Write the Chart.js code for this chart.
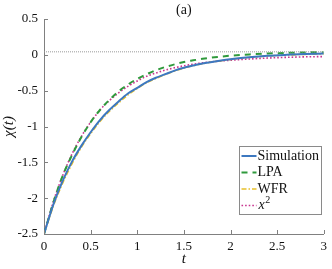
<!DOCTYPE html>
<html>
<head>
<meta charset="utf-8">
<script src="https://cdn.jsdelivr.net/npm/chart.js@4.4.0/dist/chart.umd.min.js"></script>
<style>
  html, body { margin: 0; padding: 0; background: #fff; }
  #wrap { width: 332px; height: 269px; }
</style>
</head>
<body>
<div id="wrap"><canvas id="chart" width="332" height="269"></canvas></div>
<script>
// time samples (t) and chi(t)
const tValues = [0, 0.1, 0.2, 0.3, 0.4, 0.5, 0.6, 0.7, 0.8, 0.9, 1.0, 1.1, 1.2, 1.3, 1.4, 1.5, 1.6, 1.7, 1.8, 1.9, 2.0, 2.2, 2.4, 2.6, 2.8, 3.0];

const simulation = [-2.50, -2.09, -1.76, -1.49, -1.27, -1.08, -0.91, -0.77, -0.65, -0.54, -0.46, -0.38, -0.32, -0.27, -0.22, -0.18, -0.15, -0.12, -0.10, -0.08, -0.06, -0.033, -0.013, 0.0, 0.01, 0.018];
const lpa = [-2.50, -2.06, -1.69, -1.40, -1.15, -0.94, -0.77, -0.63, -0.51, -0.415, -0.335, -0.27, -0.215, -0.17, -0.133, -0.10, -0.077, -0.056, -0.038, -0.024, -0.012, 0.006, 0.018, 0.027, 0.033, 0.037];
const wfr = [-2.50, -2.11, -1.79, -1.52, -1.29, -1.10, -0.93, -0.79, -0.67, -0.56, -0.47, -0.39, -0.33, -0.275, -0.225, -0.185, -0.152, -0.124, -0.10, -0.082, -0.066, -0.037, -0.016, -0.003, 0.007, 0.014];
const xSquared = [-2.50, -2.05, -1.685, -1.385, -1.14, -0.94, -0.77, -0.64, -0.53, -0.44, -0.365, -0.30, -0.254, -0.214, -0.18, -0.153, -0.13, -0.112, -0.097, -0.085, -0.075, -0.058, -0.045, -0.035, -0.028, -0.024];

// dotted reference level
const refT = [0, 3];
const refLevel = [0.042, 0.042];

const xTicks = [0, 0.5, 1, 1.5, 2, 2.5, 3];
const yTicks = [0.5, 0, -0.5, -1, -1.5, -2, -2.5];

const seriesNames = ["Simulation", "LPA", "WFR", "x"];

const SERIF = "'Liberation Serif', 'DejaVu Serif', serif";

function toPoints(xs, ys){
    return xs.map((x, i) => ({ x: x, y: ys[i] }));
}

// ---------------- STYLES ----------------

const styles = [
    { color: "#3d78c0", width: 2,   dash: [] },
    { color: "#2f9a3c", width: 2,   dash: [6, 5] },
    { color: "#e8c02a", width: 1.6, dash: [5, 2, 1.5, 2] },
    { color: "#c8358f", width: 1.6, dash: [1.6, 2] }
];

const seriesData = [simulation, lpa, wfr, xSquared];

const datasets = seriesData.map((vals, i) => ({
    label: seriesNames[i],
    data: toPoints(tValues, vals),
    borderColor: styles[i].color,
    borderWidth: styles[i].width,
    borderDash: styles[i].dash,
    pointRadius: 0,
    fill: false,
    cubicInterpolationMode: "monotone"
}));

datasets.unshift({
    label: "ref",
    data: toPoints(refT, refLevel),
    borderColor: "#9a9a9a",
    borderWidth: 1,
    borderDash: [1, 1],
    pointRadius: 0,
    fill: false
});

// ---------------- EXTRA DRAWING ----------------

const extras = {
    id: "extras",
    afterDraw(chart){
        const ctx = chart.ctx;
        const xs = chart.scales.x;
        const ys = chart.scales.y;
        const area = chart.chartArea;

        ctx.save();

        // inward ticks
        ctx.strokeStyle = "#808080";
        ctx.lineWidth = 1;
        ctx.beginPath();
        xTicks.forEach(v => {
            const px = Math.round(xs.getPixelForValue(v)) + 0.5;
            ctx.moveTo(px, area.bottom);
            ctx.lineTo(px, area.bottom - 4);
        });
        yTicks.forEach(v => {
            const py = Math.round(ys.getPixelForValue(v)) + 0.5;
            ctx.moveTo(area.left, py);
            ctx.lineTo(area.left + 4, py);
        });
        ctx.stroke();

        // panel title
        ctx.fillStyle = "#111";
        ctx.font = "14px " + SERIF;
        ctx.textAlign = "center";
        ctx.textBaseline = "middle";
        ctx.fillText("(a)", (area.left + area.right) / 2, 10);

        // legend box
        const bx = 239.5, by = 146.5, bw = 82, bh = 68;
        ctx.fillStyle = "#fff";
        ctx.fillRect(bx, by, bw, bh);
        ctx.strokeStyle = "#8a8a8a";
        ctx.lineWidth = 1;
        ctx.strokeRect(bx, by, bw, bh);

        const rows = [156, 172.5, 189, 205.5];
        ctx.textAlign = "left";
        ctx.textBaseline = "middle";
        rows.forEach((ry, i) => {
            ctx.strokeStyle = styles[i].color;
            ctx.lineWidth = styles[i].width;
            ctx.setLineDash(styles[i].dash);
            ctx.beginPath();
            ctx.moveTo(bx + 2, ry);
            ctx.lineTo(bx + 17, ry);
            ctx.stroke();
            ctx.setLineDash([]);

            ctx.fillStyle = "#111";
            if(i === 3){
                ctx.font = "italic 14px " + SERIF;
                ctx.fillText(seriesNames[i], bx + 19, ry);
                const w = ctx.measureText(seriesNames[i]).width;
                ctx.font = "10px " + SERIF;
                ctx.fillText("2", bx + 19 + w + 0.5, ry - 5);
            } else {
                ctx.font = "14px " + SERIF;
                ctx.fillText(seriesNames[i], bx + 18, ry);
            }
        });

        ctx.restore();
    }
};

// ---------------- CHART ----------------

new Chart(document.getElementById("chart"), {
    type: "line",
    data: { datasets: datasets },
    options: {
        responsive: false,
        animation: false,
        layout: { padding: { left: 0, right: 5, top: 19, bottom: 0 } },
        plugins: {
            legend: { display: false },
            tooltip: { enabled: false }
        },
        scales: {
            x: {
                type: "linear",
                min: 0,
                max: 3,
                afterBuildTicks: s => { s.ticks = xTicks.map(v => ({ value: v })); },
                afterFit: s => { s.height = 35; },
                grid: { display: false, drawTicks: false, tickLength: 0 },
                border: { display: true, color: "#808080", width: 1 },
                ticks: {
                    color: "#111",
                    padding: 5,
                    maxRotation: 0,
                    callback: v => String(v),
                    font: { family: SERIF, size: 13 }
                },
                title: {
                    display: true,
                    text: "t",
                    color: "#111",
                    padding: { top: 0, bottom: 1 },
                    font: { family: SERIF, size: 15, style: "italic" }
                }
            },
            y: {
                type: "linear",
                min: -2.5,
                max: 0.5,
                afterBuildTicks: s => { s.ticks = yTicks.map(v => ({ value: v })); },
                afterFit: s => { s.width = 44; },
                grid: { display: false, drawTicks: false, tickLength: 0 },
                border: { display: true, color: "#808080", width: 1 },
                ticks: {
                    color: "#111",
                    padding: 6,
                    callback: v => String(v),
                    font: { family: SERIF, size: 13 }
                },
                title: {
                    display: true,
                    text: "χ(t)",
                    color: "#111",
                    padding: { top: 0, bottom: 0 },
                    font: { family: SERIF, size: 15, style: "italic" }
                }
            }
        }
    },
    plugins: [extras]
});
</script>
</body>
</html>
